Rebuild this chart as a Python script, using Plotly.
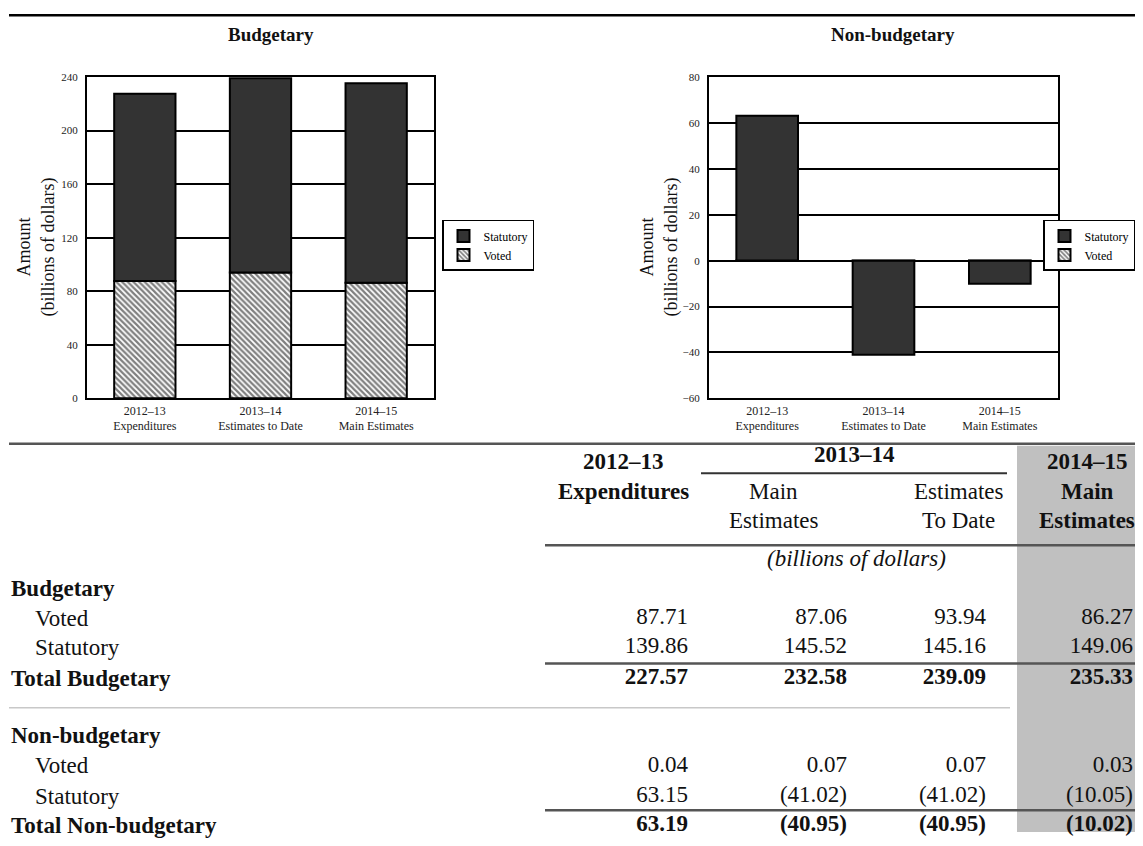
import plotly.graph_objects as go

# ---------------- data ----------------
bar_ticks = ["2012–13<br>Expenditures", "2013–14<br>Estimates to Date", "2014–15<br>Main Estimates"]
budget_voted = [87.71, 93.94, 86.27]
budget_statutory = [139.86, 145.16, 149.06]
nonbud_voted = [0.04, 0.07, 0.03]
nonbud_statutory = [63.15, -41.02, -10.05]

row_labels = ["Voted", "Statutory", "Total Budgetary", "Voted", "Statutory", "Total Non-budgetary"]
tbl_bud_voted = [87.71, 87.06, 93.94, 86.27]
tbl_bud_statutory = [139.86, 145.52, 145.16, 149.06]
tbl_bud_total = [227.57, 232.58, 239.09, 235.33]
tbl_non_voted = [0.04, 0.07, 0.07, 0.03]
tbl_non_statutory = [63.15, -41.02, -41.02, -10.05]
tbl_non_total = [63.19, -40.95, -40.95, -10.02]

# page is 1143x846 with an 8px body margin -> figure 1127x830
OFF = 8
W, H = 1143 - 2 * OFF, 846 - 2 * OFF
FONT = "Liberation Serif"
DARK = "#333333"

def X(v):
    return v - OFF

def Y(v):
    return v - OFF

def fmt(v):
    return f"({abs(v):.2f})" if v < 0 else f"{v:.2f}"

fig = go.Figure()

# ---------------- bar charts ----------------
def add_bars(voted, statutory, xa, ya, legend):
    fig.add_trace(go.Bar(
        x=bar_ticks, y=voted, name="Voted", xaxis=xa, yaxis=ya, legend=legend,
        width=0.53,
        marker=dict(color="white", line=dict(color="black", width=2),
                    pattern=dict(shape="\\", fgcolor="#000000", bgcolor="white",
                                 size=4, solidity=0.55)),
    ))
    fig.add_trace(go.Bar(
        x=bar_ticks, y=statutory, name="Statutory", xaxis=xa, yaxis=ya, legend=legend,
        width=0.53,
        marker=dict(color=DARK, line=dict(color="black", width=2)),
    ))

add_bars(budget_voted, budget_statutory, "x", "y", "legend")
add_bars(nonbud_voted, nonbud_statutory, "x2", "y2", "legend2")

# ---------------- table numbers (text traces on a pixel axis) ----------------
num_right = [688, 847, 986, 1133]
row_y = [621, 651, 682, 771, 802, 831]
tbl_rows = [tbl_bud_voted, tbl_bud_statutory, tbl_bud_total,
            tbl_non_voted, tbl_non_statutory, tbl_non_total]
bold_rows = [False, False, True, False, False, True]
for vals, yy, bold in zip(tbl_rows, row_y, bold_rows):
    txt = [("<b>%s</b>" % fmt(v)) if bold else fmt(v) for v in vals]
    fig.add_trace(go.Scatter(
        x=[X(v) for v in num_right], y=[Y(yy)] * len(vals), text=txt, mode="text",
        textposition="middle left", xaxis="x3", yaxis="y3",
        textfont=dict(family=FONT, size=23, color="#111111"),
        showlegend=False, cliponaxis=False, hoverinfo="skip",
    ))

# ---------------- axes ----------------
def px_x(a, b):
    return [X(a) / W, X(b) / W]

def px_y(top, bottom):
    return [1 - Y(bottom) / H, 1 - Y(top) / H]

axis_common = dict(showline=True, linecolor="black", linewidth=2, mirror=True)
xtick = dict(family=FONT, size=12, color="#222222")
ytick = dict(family=FONT, size=11, color="#222222")
fig.update_layout(
    xaxis=dict(domain=px_x(87, 434), anchor="y", showgrid=False, ticks="",
               tickfont=xtick, **axis_common),
    yaxis=dict(domain=px_y(72, 398), anchor="x", range=[0, 240], dtick=40,
               showgrid=True, gridcolor="black", gridwidth=1.6, ticks="",
               zeroline=False, ticklabelstandoff=5, tickfont=ytick, **axis_common),
    xaxis2=dict(domain=px_x(709, 1058), anchor="y2", showgrid=False, ticks="",
                tickfont=xtick, **axis_common),
    yaxis2=dict(domain=px_y(72, 398), anchor="x2", range=[-60, 80], dtick=20,
                showgrid=True, gridcolor="black", gridwidth=1.6, ticks="",
                zeroline=True, zerolinecolor="black", zerolinewidth=2,
                ticklabelstandoff=5, tickfont=ytick, **axis_common),
    xaxis3=dict(domain=[0, 1], range=[0, W], visible=False, anchor="y3", fixedrange=True),
    yaxis3=dict(domain=[0, 1], range=[H, 0], visible=False, anchor="x3", fixedrange=True),
)

fig.update_layout(
    width=W, height=H,
    margin=dict(l=0, r=0, t=0, b=0),
    paper_bgcolor="white", plot_bgcolor="rgba(0,0,0,0)",
    barmode="relative",
    font=dict(family=FONT, color="black"),
    legend=dict(x=X(442) / W, y=1 - Y(217) / H, xanchor="left", yanchor="top",
                bordercolor="black", borderwidth=1.5, bgcolor="white",
                traceorder="reversed", font=dict(family=FONT, size=12),
                itemwidth=30, tracegroupgap=0),
    legend2=dict(x=1.0, y=1 - Y(217) / H, xanchor="right", yanchor="top",
                 bordercolor="black", borderwidth=1.5, bgcolor="white",
                 traceorder="reversed", font=dict(family=FONT, size=12),
                 itemwidth=30, tracegroupgap=0),
)

# ---------------- shapes ----------------
shapes = []
def line(x0, x1, y, color="black", width=2.5):
    shapes.append(dict(type="line", xref="x3", yref="y3", x0=X(x0), x1=X(x1),
                       y0=max(Y(y), 1), y1=max(Y(y), 1),
                       line=dict(color=color, width=width)))

# gray highlight column
shapes.append(dict(type="rect", xref="x3", yref="y3", x0=X(1017), x1=W + 5,
                   y0=Y(446), y1=H + 5,
                   fillcolor="#c0c0c0", line=dict(width=0), layer="below"))
line(9, 1160, 6, "black", 3)          # top rule
line(9, 1160, 444, "#555555", 2.5)     # table top rule
line(701, 1007, 474, "#333333", 2)     # 2013-14 span rule
line(545, 1160, 547, "#555555", 2.5)   # header bottom rule
line(545, 1160, 667, "#555555", 2.5)   # above Total Budgetary
line(9, 1010, 712, "#c8c8c8", 1.5)     # separator
line(545, 1160, 816, "#555555", 2.5)   # above Total Non-budgetary
fig.update_layout(shapes=shapes)

# ---------------- annotations ----------------
ann = []
def text(x, y, s, size=23, xanchor="center", angle=0, color="#111111"):
    ann.append(dict(x=X(x), y=Y(y), xref="x3", yref="y3", text=s, showarrow=False,
                    xanchor=xanchor, yanchor="middle", textangle=angle,
                    font=dict(family=FONT, size=size, color=color)))

# chart titles and axis titles
text(271, 29, "<b>Budgetary</b>", 19)
text(893, 29, "<b>Non-budgetary</b>", 19)
text(36, 245, "Amount<br>(billions of dollars)", 18, angle=-90)
text(659, 245, "Amount<br>(billions of dollars)", 18, angle=-90)

# table header
text(623, 462, "<b>2012–13</b>")
text(623, 492, "<b>Expenditures</b>")
text(854, 455, "<b>2013–14</b>")
text(773, 492, "Main")
text(773, 522, "Estimates")
text(958, 492, "Estimates")
text(958, 522, "To Date")
text(1087, 462, "<b>2014–15</b>")
text(1087, 492, "<b>Main</b>")
text(1087, 522, "<b>Estimates</b>")
text(856, 560, "<i>(billions of dollars)</i>")

# row labels
text(9, 591, "<b>Budgetary</b>", xanchor="left")
text(9, 740, "<b>Non-budgetary</b>", xanchor="left")
label_x = [33, 33, 9, 33, 33, 9]
for lab, yy, lx, bold in zip(row_labels, row_y, label_x, bold_rows):
    text(lx, yy, ("<b>%s</b>" % lab) if bold else lab, xanchor="left")

fig.update_layout(annotations=ann)

fig.write_html("out.html")
